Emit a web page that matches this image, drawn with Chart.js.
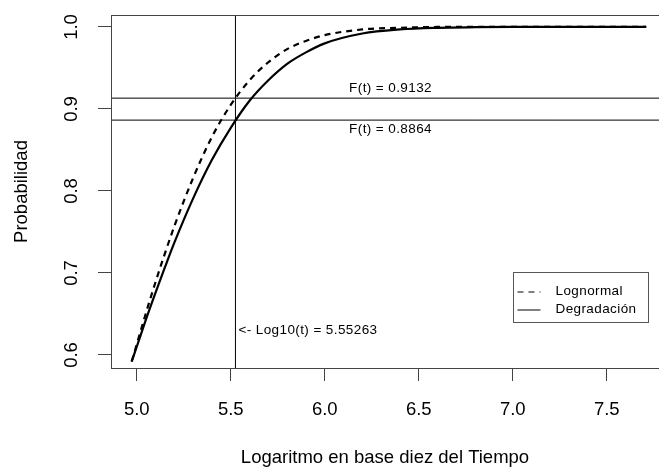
<!DOCTYPE html>
<html>
<head>
<meta charset="utf-8">
<script src="https://cdn.jsdelivr.net/npm/chart.js@4.4.1/dist/chart.umd.min.js"></script>
<style>
  html, body { margin: 0; padding: 0; background: #fff; }
</style>
</head>
<body>
<canvas id="probChart" width="659" height="473"></canvas>
<script>
// Values
const logTime = [4.973, 5.0, 5.05, 5.1, 5.15, 5.2, 5.3, 5.4, 5.5, 5.6, 5.7, 5.8, 5.9, 6.0, 6.2, 6.4, 6.6, 6.8, 7.0, 7.2, 7.4, 7.6, 7.71];
const lognormalProb = [0.592, 0.613, 0.652, 0.689, 0.724, 0.757, 0.816, 0.866, 0.905, 0.935, 0.957, 0.973, 0.983, 0.990, 0.997, 0.999, 1.0, 1.0, 1.0, 1.0, 1.0, 1.0, 1.0];
const degradProb = [0.592, 0.610, 0.644, 0.676, 0.707, 0.737, 0.791, 0.838, 0.877, 0.910, 0.935, 0.955, 0.969, 0.980, 0.992, 0.997, 0.999, 0.9997, 1.0, 1.0, 1.0, 1.0, 1.0];
const xTicks = [5.0, 5.5, 6.0, 6.5, 7.0, 7.5];
const yTicks = [0.6, 0.7, 0.8, 0.9, 1.0];
const seriesNames = ['Lognormal', 'Degradación'];

// reference lines
const cutLog = 5.525;
const cutText = '<- Log10(t) = 5.55263';
const fLognormal = 0.9132;
const fDegrad = 0.8864;

const xMin = 4.863, xMax = 7.778;
const yMin = 0.5841, yMax = 1.0146;
const FONT = '"Liberation Sans", Arial, Helvetica, sans-serif';
const BIG = 18.5;

const toPoints = (xs, ys) => xs.map((x, i) => ({ x: x, y: ys[i] }));

// box, rotated y labels, notes and legend
const extrasPlugin = {
  id: 'extras',
  afterDraw(chart) {
    const ctx = chart.ctx;
    const area = chart.chartArea;
    const xs = chart.scales.x;
    const ys = chart.scales.y;
    ctx.save();

    // plot box
    ctx.strokeStyle = '#444';
    ctx.lineWidth = 1;
    ctx.strokeRect(Math.round(area.left) + 0.5, Math.round(area.top) + 0.5,
      Math.round(area.right - area.left), Math.round(area.bottom - area.top));

    // y tick labels, parallel to the axis
    ctx.fillStyle = '#000';
    ctx.font = BIG + 'px ' + FONT;
    ctx.textAlign = 'center';
    ctx.textBaseline = 'middle';
    yTicks.forEach(v => {
      ctx.save();
      ctx.translate(72, ys.getPixelForValue(v));
      ctx.rotate(-Math.PI / 2);
      ctx.fillText(v.toFixed(1), 0, 0);
      ctx.restore();
    });

    // notes on the reference lines
    ctx.font = '13.5px ' + FONT;
    ctx.letterSpacing = '0.4px';
    ctx.textAlign = 'center';
    const noteX = xs.getPixelForValue(6.35);
    ctx.fillText('F(t) = ' + fLognormal.toFixed(4), noteX, ys.getPixelForValue(fLognormal) - 10);
    ctx.fillText('F(t) = ' + fDegrad.toFixed(4), noteX, ys.getPixelForValue(fDegrad) + 9);
    ctx.textAlign = 'left';
    ctx.fillText(cutText, xs.getPixelForValue(cutLog) + 3, ys.getPixelForValue(0.630));

    // legend
    const lx = 513.5, ly = 272.5, lw = 135, lh = 50;
    ctx.strokeStyle = '#555';
    ctx.lineWidth = 1;
    ctx.strokeRect(lx, ly, lw, lh);
    const rows = [ly + 19, ly + 37];
    chart.data.datasets.slice(0, 2).forEach((ds, i) => {
      ctx.strokeStyle = '#000';
      ctx.lineWidth = 1;
      ctx.setLineDash(i === 0 ? [6, 5] : []);
      ctx.beginPath();
      ctx.moveTo(lx + 4, rows[i] + 0.5);
      ctx.lineTo(lx + 27, rows[i] + 0.5);
      ctx.stroke();
      ctx.setLineDash([]);
      ctx.font = '13.5px ' + FONT;
      ctx.textBaseline = 'middle';
      ctx.fillText(seriesNames[i], lx + 42, rows[i]);
    });

    ctx.restore();
  }
};

const ctx = document.getElementById('probChart').getContext('2d');
const probChart = new Chart(ctx, {
  type: 'line',
  data: {
    datasets: [
      {
        label: seriesNames[0],
        data: toPoints(logTime, lognormalProb),
        borderColor: '#000',
        borderWidth: 2.2,
        borderDash: [6, 5],
        cubicInterpolationMode: 'monotone',
        pointRadius: 0
      },
      {
        label: seriesNames[1],
        data: toPoints(logTime, degradProb),
        borderColor: '#000',
        borderWidth: 2.2,
        cubicInterpolationMode: 'monotone',
        pointRadius: 0
      },
      {
        label: 'corte',
        data: [{ x: cutLog, y: yMin }, { x: cutLog, y: yMax }],
        borderColor: '#000',
        borderWidth: 1,
        pointRadius: 0
      },
      {
        label: 'F lognormal',
        data: [{ x: xMin, y: fLognormal }, { x: xMax, y: fLognormal }],
        borderColor: '#000',
        borderWidth: 1,
        pointRadius: 0
      },
      {
        label: 'F degradacion',
        data: [{ x: xMin, y: fDegrad }, { x: xMax, y: fDegrad }],
        borderColor: '#000',
        borderWidth: 1,
        pointRadius: 0
      }
    ]
  },
  options: {
    responsive: false,
    animation: false,
    layout: { padding: { top: 15, right: 0, bottom: 0, left: 0 } },
    plugins: {
      legend: { display: false },
      tooltip: { enabled: false }
    },
    scales: {
      x: {
        type: 'linear',
        min: xMin,
        max: xMax,
        afterBuildTicks: scale => { scale.ticks = xTicks.map(v => ({ value: v })); },
        afterFit: scale => { scale.height = 105; },
        grid: { drawOnChartArea: false, tickLength: 13, color: '#444' },
        border: { color: '#444' },
        ticks: {
          color: '#000',
          font: { family: FONT, size: BIG },
          padding: 18,
          maxRotation: 0,
          autoSkip: false,
          callback: v => v.toFixed(1)
        },
        title: {
          display: true,
          text: 'Logaritmo en base diez del Tiempo',
          color: '#000',
          font: { family: FONT, size: BIG },
          padding: { top: 0, bottom: 4 }
        }
      },
      y: {
        type: 'linear',
        min: yMin,
        max: yMax,
        afterBuildTicks: scale => { scale.ticks = yTicks.map(v => ({ value: v })); },
        afterFit: scale => { scale.width = 111; },
        grid: { drawOnChartArea: false, tickLength: 13, color: '#444' },
        border: { color: '#444' },
        ticks: { display: false },
        title: {
          display: true,
          text: 'Probabilidad',
          color: '#000',
          font: { family: FONT, size: BIG },
          padding: { top: 11, bottom: 0 }
        }
      }
    }
  },
  plugins: [extrasPlugin]
});
</script>
</body>
</html>
